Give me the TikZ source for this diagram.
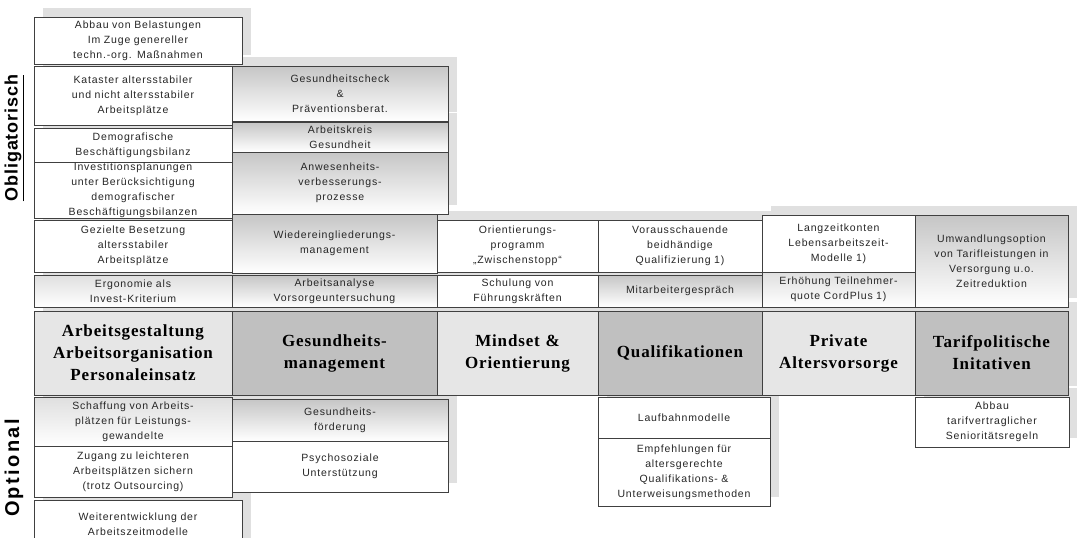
\documentclass[tikz,border=0pt]{standalone}
\usepackage{fontspec}
\setmainfont{Liberation Sans}[LetterSpace=8]
\newfontfamily\mainserif{Liberation Serif}[LetterSpace=5]
\newfontfamily\sidefont{Liberation Sans}[LetterSpace=5]
\newfontfamily\sidefontwide{Liberation Sans}[LetterSpace=12]
\usetikzlibrary{backgrounds}
\definecolor{edge}{HTML}{404040}
\definecolor{lightcat}{HTML}{E6E6E6}
\definecolor{darkcat}{HTML}{C0C0C0}
\definecolor{shadowc}{HTML}{E0E0E0}
\tikzset{
 box/.style={draw=edge, line width=0.9pt, fill=white, inner sep=0pt, align=center,
   font=\fontsize{10.5}{15}\selectfont, text=black!85},
 gradbox/.style={box, top color=gray!45, bottom color=white},
 lgradbox/.style={box, top color=gray!25, bottom color=white},
 catlight/.style={box, fill=lightcat, font=\mainserif\bfseries\fontsize{17}{22}\selectfont, text=black},
 catdark/.style={catlight, fill=darkcat},
 sidelabel/.style={rotate=90, inner sep=0pt}
}
\newcommand\bx[7]{%
 \pgfmathsetmacro\myw{#4-#2}\pgfmathsetmacro\myh{#5-#3}\pgfmathsetmacro\mytw{#4-#2-6}%
 \node[#6, minimum width=\myw pt, minimum height=\myh pt, text width=\mytw pt] (#1)
   at ({(#2+#4)/2},{(#3+#5)/2}) {#7};}
\begin{document}
\begin{tikzpicture}[x=1pt,y=-1pt]
\useasboundingbox (0,0) rectangle (1077,538);
\clip (0,0) rectangle (1077,538);
% column 1
\bx{abbau}{34}{17}{242}{64}{box}{Abbau von Belastungen\\Im Zuge genereller\\techn.-org. Maßnahmen}
\bx{kataster}{34}{66}{232}{125}{box}{Kataster altersstabiler\\und nicht altersstabiler\\Arbeitsplätze}
\bx{demo}{34}{128}{232}{162}{box}{Demografische\\Beschäftigungsbilanz}
\bx{invest}{34}{162}{232}{218}{box}{Investitionsplanungen\\unter Berücksichtigung\\demografischer\\Beschäftigungsbilanzen}
\bx{gezielt}{34}{220}{232}{272}{box}{Gezielte Besetzung\\altersstabiler\\Arbeitsplätze}
\bx{ergo}{34}{275}{232}{307}{lgradbox}{Ergonomie als\\Invest-Kriterium}
\bx{main1}{34}{311}{232}{395}{catlight}{Arbeitsgestaltung\\Arbeitsorganisation\\Personaleinsatz}
\bx{schaffung}{34}{397}{232}{446}{lgradbox}{Schaffung von Arbeits-\\plätzen für Leistungs-\\gewandelte}
\bx{zugang}{34}{446}{232}{497}{box}{Zugang zu leichteren\\Arbeitsplätzen sichern\\(trotz Outsourcing)}
\bx{weiter}{34}{500}{242}{548}{box}{Weiterentwicklung der\\Arbeitszeitmodelle\\[8pt]}
% column 2
\bx{gcheck}{232}{66}{448}{121}{gradbox}{Gesundheitscheck\\\&\\Präventionsberat.}
\bx{akreis}{232}{122}{448}{152}{gradbox}{Arbeitskreis\\Gesundheit}
\bx{anwes}{232}{152}{448}{214}{gradbox}{Anwesenheits-\\verbesserungs-\\prozesse}
\bx{wieder}{232}{214}{437}{273}{gradbox}{Wiedereingliederungs-\\management}
\bx{aanalyse}{232}{275}{437}{307}{gradbox}{Arbeitsanalyse\\Vorsorgeuntersuchung}
\bx{main2}{232}{311}{437}{395}{catdark}{Gesundheits-\\management}
\bx{gfoerd}{232}{399}{448}{441}{gradbox}{Gesundheits-\\förderung}
\bx{psycho}{232}{441}{448}{492}{box}{Psychosoziale\\Unterstützung\\[6pt]}
% column 3
\bx{orient}{437}{220}{598}{272}{box}{Orientierungs-\\programm\\„Zwischenstopp“}
\bx{schulung}{437}{275}{598}{307}{box}{Schulung von\\Führungskräften}
\bx{main3}{437}{311}{598}{395}{catlight}{Mindset \&\\Orientierung}
% column 4
\bx{voraus}{598}{220}{762}{272}{box}{Vorausschauende\\beidhändige\\Qualifizierung 1)}
\bx{mitarb}{598}{275}{762}{307}{gradbox}{Mitarbeitergespräch}
\bx{main4}{598}{311}{762}{395}{catdark}{Qualifikationen}
\bx{laufbahn}{598}{397}{770}{438}{box}{Laufbahnmodelle}
\bx{empf}{598}{438}{770}{506}{box}{Empfehlungen für\\altersgerechte\\Qualifikations- \&\\Unterweisungsmethoden}
% column 5
\bx{langzeit}{762}{215}{915}{272}{box}{Langzeitkonten\\Lebensarbeitszeit-\\Modelle 1)}
\bx{erhoeh}{762}{272}{915}{307}{lgradbox}{Erhöhung Teilnehmer-\\quote CordPlus 1)}
\bx{main5}{762}{311}{915}{395}{catlight}{Private\\Altersvorsorge}
% column 6
\bx{umwandl}{915}{215}{1068}{307}{gradbox}{Umwandlungsoption\\von Tarifleistungen in\\Versorgung u.o.\\Zeitreduktion}
\bx{main6}{915}{311}{1068}{395}{catdark}{Tarifpolitische\\Initativen}
\bx{abbau2}{915}{397}{1069}{447}{box}{Abbau\\tarifvertraglicher\\Senioritätsregeln}
% side labels
\node[sidelabel, font=\sidefont\bfseries\fontsize{18}{20}\selectfont] (obl) at (14,138) {\underline{Obligatorisch}};
\node[sidelabel, font=\sidefontwide\bfseries\fontsize{20}{22}\selectfont] (opt) at (14,468) {Optional};
% shadows
\begin{pgfonlayer}{background}
\foreach \n in {abbau,kataster,demo,invest,gezielt,ergo,main1,schaffung,zugang,weiter,
  gcheck,akreis,anwes,wieder,aanalyse,main2,gfoerd,psycho,orient,schulung,main3,
  voraus,mitarb,main4,laufbahn,empf,langzeit,erhoeh,main5,umwandl,main6,abbau2}
  \fill[shadowc] ([shift={(9,-9)}]\n.south west) rectangle ([shift={(9,-9)}]\n.north east);
\end{pgfonlayer}
\end{tikzpicture}
\end{document}
